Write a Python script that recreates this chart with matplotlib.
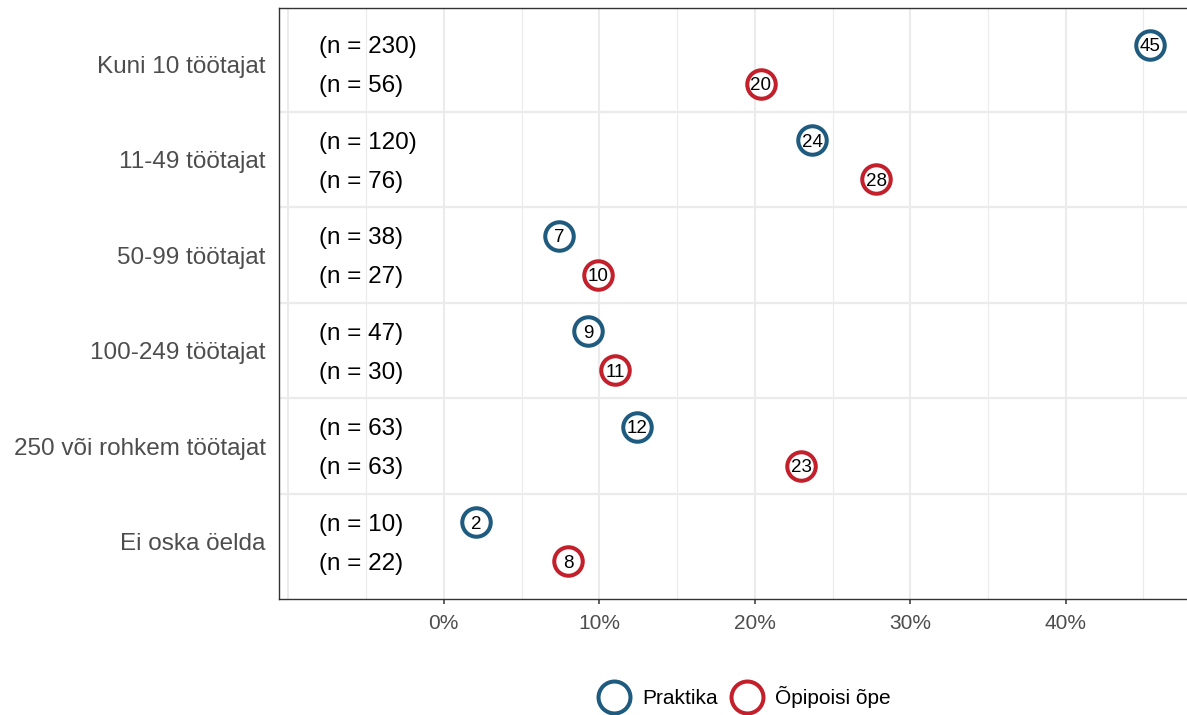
import matplotlib
matplotlib.use("Agg")
import matplotlib.pyplot as plt
from matplotlib.lines import Line2D
import numpy as np

plt.rcParams['font.family'] = ['Liberation Sans', 'DejaVu Sans']

categories = ["Kuni 10 töötajat", "11-49 töötajat", "50-99 töötajat",
              "100-249 töötajat", "250 või rohkem töötajat", "Ei oska öelda"]
praktika_pct = [45.4, 23.7, 7.4, 9.3, 12.4, 2.1]
opipoisi_pct = [20.4, 27.8, 9.9, 11.0, 23.0, 8.0]
praktika_n = [230, 120, 38, 47, 63, 10]
opipoisi_n = [56, 76, 27, 30, 63, 22]
series_names = ["Praktika", "Õpipoisi õpe"]
x_ticks = [0, 10, 20, 30, 40]

blue = "#1F5A7F"
red = "#C3202B"

fig = plt.figure(figsize=(11.87, 7.15), dpi=100)
ax = fig.add_axes([279/1187, 1-599/715, 1-279/1187, (599-8)/715])

ypos = np.arange(len(categories))
off = 0.204

# grid
for xv in [-10, 0, 10, 20, 30, 40]:
    ax.axvline(xv, color="#EBEBEB", lw=1.5, zorder=0)
for xv in [-5, 5, 15, 25, 35, 45]:
    ax.axvline(xv, color="#EBEBEB", lw=0.8, zorder=0)
for yb in ypos[:-1] + 0.5:
    ax.axhline(yb, color="#EBEBEB", lw=1.6, zorder=0)

for vals, ns, color, sgn in [(praktika_pct, praktika_n, blue, -1),
                             (opipoisi_pct, opipoisi_n, red, 1)]:
    yy = ypos + sgn * off
    ax.plot(vals, yy, linestyle="none", marker="o", ms=20.5, mew=2.9,
            mec=color, mfc="white", zorder=3)
    for v, y, n in zip(vals, yy, ns):
        ax.text(v, y, f"{round(v)}", ha="center", va="center_baseline",
                fontsize=13.5, color="black", zorder=4)
        ax.text(-8.0, y, f"(n = {n})", ha="left", va="center_baseline",
                fontsize=17.5, color="black", zorder=4)

ax.set_xlim(-10.6, 47.8)
ax.set_ylim(5.6, -0.589)
ax.set_yticks(ypos)
ax.set_yticklabels(categories, fontsize=17.5, color="#4D4D4D")
ax.set_xticks(x_ticks)
ax.set_xticklabels([f"{t}%" for t in x_ticks], fontsize=15, color="#4D4D4D")
ax.tick_params(axis="y", length=0, pad=9.5)
ax.tick_params(axis="x", length=3.6, width=1.1, color="#333333", pad=7)

for s in ["left", "bottom", "top"]:
    ax.spines[s].set_color("#333333")
    ax.spines[s].set_linewidth(1.0)
ax.spines["right"].set_visible(False)

handles = [Line2D([], [], linestyle="none", marker="o", ms=23, mew=2.9,
                  mec=c, mfc="white") for c in (blue, red)]
fig.legend(handles, series_names, loc="center", ncol=2, frameon=False,
           bbox_to_anchor=(743/1187, 1-697/715), fontsize=15,
           handletextpad=0.45, columnspacing=0.5, handlelength=1.8)

fig.savefig("out.png", dpi=100)
